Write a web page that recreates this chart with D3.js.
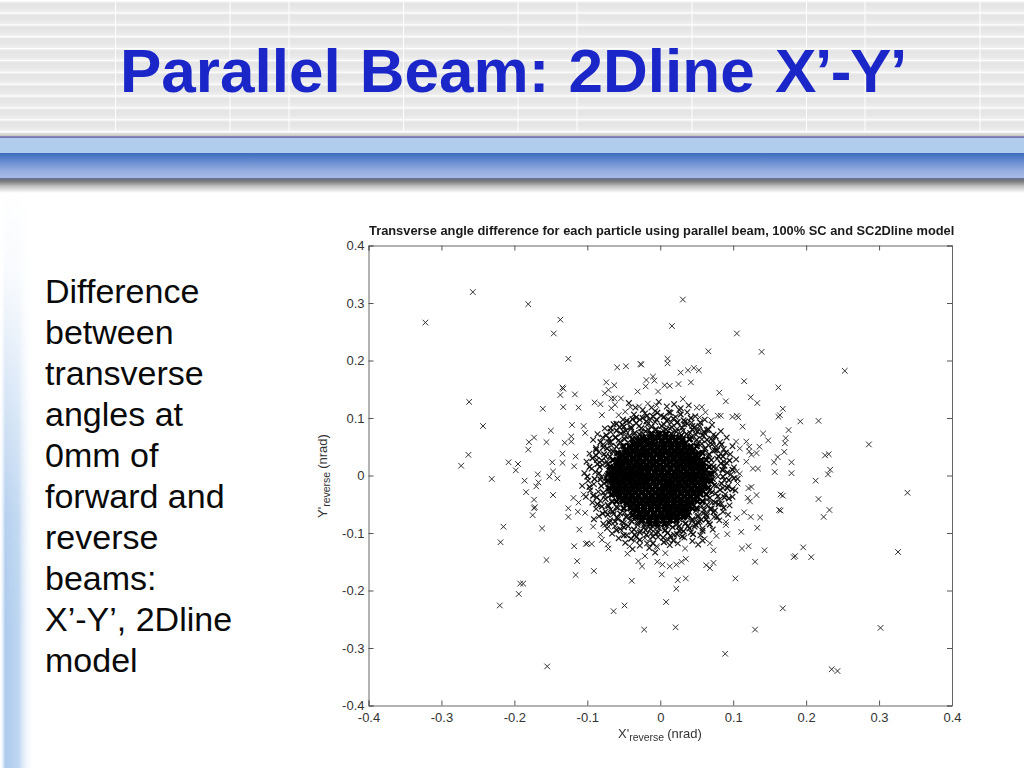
<!DOCTYPE html>
<html><head><meta charset="utf-8">
<script src="https://cdnjs.cloudflare.com/ajax/libs/d3/7.8.5/d3.min.js"></script>
<style>html,body{margin:0;padding:0;background:#fff;overflow:hidden}svg{display:block}text{font-family:"Liberation Sans",Arial,sans-serif}</style>
</head><body><svg id="c" width="1024" height="768"></svg>
<script>
// Values in milli-units of the axis as [x, y].
const sparsePoints=[[-322,266],[-257,319],[-181,298],[-137,271],[-146,247],[-126,203],[-262,128],[-243,86],[-263,36],[-273,17],[-231,-6],[-208,23],[-195,20],[-198,9],[-181,45],[-180,58],[-173,66],[-161,116],[-150,78],[-156,58],[-134,153],[-133,151],[-137,140],[-117,141],[-133,119],[-112,118],[-121,88],[-105,86],[-103,74],[-122,68],[-122,59],[-131,57],[-134,38],[-134,22],[-148,23],[-147,7],[-152,-2],[-141,-5],[-168,2],[-167,-12],[-186,-9],[-116,33],[-118,16],[-90,127],[-82,124],[-80,105],[-74,162],[-76,143],[-71,149],[-63,157],[-59,188],[-47,190],[-27,194],[-26,193],[-19,166],[-10,172],[-8,165],[-3,146],[-31,146],[-20,155],[-63,134],[-54,134],[-67,134],[-67,117],[-62,123],[-57,105],[-48,111],[-41,119],[-29,120],[-17,125],[-5,122],
[31,306],[16,260],[105,247],[66,216],[139,215],[10,203],[10,195],[253,182],[28,179],[38,183],[46,187],[53,183],[6,157],[13,156],[25,159],[42,162],[115,164],[162,153],[81,144],[31,133],[90,129],[124,136],[133,126],[168,116],[162,102],[164,105],[192,94],[217,95],[105,104],[107,101],[99,102],[79,104],[83,104],[113,85],[176,79],[141,73],[148,61],[172,65],[171,56],[286,54],[136,50],[170,41],[161,32],[156,23],[180,23],[226,35],[231,37],[157,6],[180,4],[233,10],[230,2],[213,-9],[118,59],[122,50],[122,42],[125,36],[132,39],[127,12],[134,12],[118,24],[104,59],[109,47],[105,7],[109,3],[50,118],[57,119],[54,101],[70,96],[62,110],
[339,-30],[326,-133],[302,-265],[243,-340],[235,-337],[89,-310],[130,-268],[21,-264],[168,-231],[8,-220],[22,-197],[2,-172],[103,-179],[35,-179],[24,-182],[130,-150],[183,-142],[185,-140],[207,-142],[196,-125],[143,-130],[112,-127],[121,-123],[73,-152],[63,-156],[68,-161],[7,-135],[-4,-125],[-4,-150],[3,-155],[13,-158],[22,-155],[29,-150],[35,-145],[34,-127],[111,-98],[133,-91],[92,-102],[77,-105],[73,-130],[68,-118],[61,-110],[224,-72],[232,-60],[217,-41],[163,-60],[165,-61],[165,-33],[168,-35],[137,-73],[124,-72],[115,-64],[105,-74],[132,-34],[121,-22],[123,-45],[120,-39],[125,-20],[106,-14],[90,-86],[90,-81],[50,-87],
[-215,-89],[-219,-116],[-156,-147],[-192,-188],[-188,-188],[-194,-206],[-220,-226],[-155,-332],[-22,-268],[-64,-236],[-49,-226],[-39,-183],[-91,-166],[-116,-173],[-114,-149],[-118,-123],[-102,-119],[-100,-118],[-94,-119],[-162,-92],[-111,-94],[-175,-69],[-173,-57],[-172,-55],[-173,-42],[-184,-29],[-170,-19],[-147,-34],[-126,-57],[-126,-72],[-113,-63],[-103,-65],[-119,-39],[-112,-47],[-105,-33],[-80,-112],[-72,-120],[-71,-127],[-45,-136],[-30,-149],[-25,-158],[-21,-140],[-5,-123],[-42,-123],[-35,-114],[-21,-109],[-14,-110],[-76,-87],[-71,-89],[-92,-89],[-82,-103],[-53,-96]];

// Hatched ring around the dense core (estimated, marks overlap too much to read singly).
const ringPoints=[[-92,62],[-88,48],[-97,38],[-101,24],[-94,12],[-104,4],[-99,-9],[-107,-18],[-96,-26],[-102,-37],[-93,-47],[-88,-58],[-84,-71],[-91,-76],[-78,-84],[-69,-78],[-73,-92],[-62,-88],[-66,-101],[-55,-93],[-57,-109],[-46,-104],[-39,-98],[-48,-117],[-33,-107],[-27,-96],[-18,-118],[-12,-100],[-3,-107],[6,-96],[11,-112],[19,-103],[28,-94],[33,-108],[42,-99],[47,-89],[55,-104],[58,-92],[66,-82],[72,-94],[74,-72],[81,-78],[86,-63],[93,-68],[84,-49],[95,-52],[99,-37],[89,-33],[103,-26],[93,-18],[106,-6],[97,2],[101,14],[91,22],[104,28],[96,37],[87,46],[99,51],[82,58],[91,66],[73,71],[83,77],[64,79],[71,88],[54,86],[61,97],[43,92],[48,103],[32,96],[37,110],[21,102],[26,114],[11,98],[14,109],[1,104],[-7,112],[-14,96],[-21,108],[-28,97],[-36,106],[-42,93],[-51,97],[-56,84],[-64,89],[-68,76],[-76,82],[-79,66],[-86,72],
[-78,54],[-84,41],[-75,33],[-87,27],[-79,18],[-89,6],[-81,-3],[-91,-15],[-77,-14],[-85,-28],[-76,-35],[-82,-44],[-72,-51],[-75,-63],[-64,-67],[-68,-59],[-58,-76],[-50,-83],[-41,-78],[-45,-71],[-31,-86],[-34,-74],[-22,-90],[-24,-78],[-11,-88],[-13,-79],[-1,-92],[3,-80],[9,-87],[15,-78],[22,-86],[26,-76],[34,-84],[37,-73],[44,-79],[51,-72],[54,-80],[59,-66],[64,-71],[68,-58],[75,-61],[71,-47],[81,-42],[76,-31],[86,-22],[77,-18],[88,-8],[79,-2],[86,9],[77,13],[87,24],[78,29],[83,38],[72,43],[77,51],[66,53],[70,64],[57,63],[62,72],[49,71],[53,80],[41,74],[44,86],[31,78],[33,89],[23,81],[24,93],[13,82],[15,92],[4,78],[5,89],[-6,81],[-7,93],[-16,79],[-18,88],[-26,76],[-29,86],[-36,72],[-40,81],[-47,68],[-50,76],[-57,61],[-62,66],[-67,52],[-71,58],[-69,42],[-73,24],[-70,8],[-74,-4],[-71,-27],[-66,-44],[-58,-56],[-49,-64],[-39,-68],[-27,-70],[-16,-72],[-5,-74],[6,-72],[18,-70],[29,-68],[40,-64],[49,-61],[57,-53],[64,-42],[67,-27],[70,-11],[69,4],[70,18],[66,34],[60,46],[51,56],[41,64],[29,70],[16,72],[3,70],[-9,70],[-21,68],[-33,64],[-44,58],[-53,51],[-60,39],[-65,26],
[-43,126],[-34,118],[-24,114],[-12,118],[-2,128],[9,120],[19,124],[28,117],[39,122],[-38,-128],[-28,-122],[-15,-126],[-7,-134],[13,-121],[24,-118],[44,-114],[52,-120],[58,-113]];

// Heavily overlapped marks just outside the solid area (estimated).
const denseRingPoints=[[-40,84],[-33,91],[-26,82],[-19,94],[-12,85],[-5,97],[2,86],[9,95],[16,84],[23,92],[30,83],[37,90],[44,80],[-47,78],[-54,73],[51,76],[58,70],[-61,66],[-68,58],[64,62],[71,54],[-73,47],[-77,37],[75,44],[80,33],[-80,26],[-83,15],[83,21],[85,10],[-84,4],[-82,-7],[86,-2],[84,-14],[-81,-18],[-78,-30],[82,-25],[79,-36],[-75,-41],[-71,-53],[75,-47],[70,-58],[-65,-63],[-59,-73],[63,-68],[56,-77],[-52,-81],[-44,-88],[48,-85],[40,-92],[-36,-94],[-28,-99],[32,-97],[23,-102],[-19,-103],[-10,-106],[14,-105],[4,-108],
[-35,74],[-28,71],[-20,77],[-13,72],[-6,79],[1,74],[8,80],[15,73],[22,76],[29,70],[36,72],[43,67],[-42,69],[-49,63],[50,62],[-55,58],[57,55],[-60,50],[62,47],[-65,42],[67,37],[-69,33],[-72,20],[70,27],[73,15],[-70,11],[-73,0],[75,6],[72,-6],[-74,-11],[-71,-23],[74,-17],[71,-29],[-68,-34],[-66,-46],[68,-39],[64,-51],[-60,-55],[-55,-66],[60,-60],[52,-70],[-47,-72],[-39,-80],[44,-76],[35,-83],[-31,-82],[-22,-86],[26,-88],[17,-90],[-13,-93],[-4,-90],[7,-95],[-3,-99],[12,-85],[-17,-80],[-8,-84],
[-68,82],[-60,90],[-52,88],[-74,70],[-82,58],[-88,45],[-93,30],[-97,15],[-100,-2],[-97,-20],[-92,-35],[-86,-50],[-79,-66],[-70,-82],[-60,-95],[-50,-104],[-40,-110],[-28,-112],[-10,-118],[5,-116],[18,-113],[30,-106],[45,-102],[58,-96],[68,-85],[78,-72],[87,-56],[94,-40],[99,-24],[101,-5],[99,10],[95,26],[90,40],[84,54],[76,68],[66,80],[55,92],[42,100],[28,106],[12,110],[-4,109],[-18,104],[-33,101],[-46,95],
[-88,35],[-86,20],[-90,-6],[-87,-38],[-80,-54],[-72,-68],[-62,-80],[-50,-90],[-35,-103],[-20,-95],[-6,-101],[10,-100],[26,-96],[38,-88],[52,-82],[63,-76],[73,-64],[80,-50],[88,-38],[92,-22],[94,-8],[92,5],[88,17],[86,33],[78,44],[72,60],[60,76],[47,84],[34,94],[18,99],[5,102],[-10,103],[-24,100],[-38,98],[-50,85],[-60,78],[-70,64],[-78,49]];

// Black core, rows of x at each y (estimated from the solid area).
const coreY=[72,66,60,54,48,42,36,30,24,18,12,6,0,-6,-12,-18,-24,-30,-36,-42,-48,-54,-60,-66,-72,-78,-84];
const coreX=[
[-12,-2,8],
[-24,-14,-3,7,17,26],
[-30,-21,-10,2,12,21,30],
[-36,-27,-16,-7,4,13,24,33],
[-41,-32,-24,-12,-3,6,16,25,34,41],
[-47,-38,-29,-20,-9,0,9,19,28,37,45],
[-52,-42,-33,-25,-14,-5,3,14,23,31,40,48],
[-55,-47,-37,-28,-19,-10,-1,8,18,27,36,44,51],
[-58,-50,-41,-32,-23,-14,-6,4,13,22,31,40,48,55],
[-60,-53,-44,-36,-27,-18,-9,0,9,18,27,36,44,52,58],
[-63,-55,-47,-39,-30,-22,-13,-4,5,14,23,32,41,49,57],
[-64,-56,-49,-41,-33,-25,-17,-8,1,10,19,28,37,45,53,60],
[-65,-58,-50,-43,-35,-27,-20,-11,-2,6,15,24,33,42,50,58],
[-66,-58,-51,-44,-37,-29,-21,-13,-5,4,13,22,31,40,48,56,62],
[-65,-57,-50,-42,-34,-26,-18,-9,0,8,17,26,35,44,52,59],
[-64,-56,-48,-40,-32,-23,-15,-6,3,12,21,30,38,47,55,60],
[-62,-54,-46,-37,-29,-20,-11,-2,7,16,25,34,43,51,57],
[-59,-51,-43,-34,-25,-16,-7,2,11,20,29,38,46,54],
[-56,-47,-39,-30,-21,-12,-3,6,15,24,33,41,50],
[-52,-43,-34,-25,-16,-7,2,11,20,29,38,46],
[-46,-37,-28,-19,-10,0,9,18,27,36,43],
[-40,-31,-22,-12,-3,6,15,24,33,39],
[-37,-32,-23,-13,-4,5,14,23,30,35],
[-29,-20,-9,1,10,19,28],
[-33,-24,-14,-5,5,14,23,32],
[-25,-15,-6,4,13,22],
[-14,-4,6]];
const fillY=[63,51,39,27,15,3,-9,-21,-33,-45,-57,-69];
const fillX=[
[-38,-28,-18,-7,2,11,21,31,40],
[-50,-42,-33,-23,-13,-4,5,15,24,33,42,50],
[-58,-49,-41,-31,-22,-13,-3,7,16,25,34,44,53,58],
[-65,-56,-47,-38,-29,-19,-10,0,10,19,29,38,47,56,63],
[-69,-60,-52,-43,-34,-24,-15,-5,4,14,24,33,42,51,60,67],
[-71,-62,-53,-45,-36,-27,-17,-7,2,11,21,31,40,49,58,67,70],
[-72,-63,-54,-46,-37,-28,-19,-9,0,10,20,29,38,47,56,65,69],
[-70,-61,-52,-44,-34,-25,-15,-6,5,14,23,33,42,51,60,66],
[-66,-57,-48,-39,-30,-20,-11,-1,8,18,28,37,46,55,63],
[-60,-51,-42,-33,-24,-14,-5,4,14,23,33,42,51,58],
[-50,-41,-32,-22,-13,-3,7,17,26,36,44,50],
[-38,-28,-18,-8,2,12,22,32,38]];

const xTicks=[-0.4,-0.3,-0.2,-0.1,0,0.1,0.2,0.3,0.4];
const yTicks=[-0.4,-0.3,-0.2,-0.1,0,0.1,0.2,0.3,0.4];
const tickLabels=["-0.4","-0.3","-0.2","-0.1","0","0.1","0.2","0.3","0.4"];
const bodyLines=["Difference","between","transverse","angles at","0mm of","forward and","reverse","beams:","X’-Y’, 2Dline","model"];
const stripeXs=[115.5,230,289,403.5,518,577,692,806.5,865,980];
const stripeRows=[0,1,2,3,4,5,6,7,8,9,10];

const svg=d3.select("#c"),defs=svg.append("defs");
function grad(id,stops,h){const g=defs.append("linearGradient").attr("id",id).attr("x1",0).attr("y1",0).attr("x2",h?1:0).attr("y2",h?0:1);
 stops.forEach(s=>g.append("stop").attr("offset",s[0]).attr("stop-color",s[1]).attr("stop-opacity",s[2]===undefined?1:s[2]));}
grad("stripe",[[0,"#f1f1f1"],[.2,"#e4e4e4"],[.6,"#e7e7e7"],[1,"#f0f0f0"]]);
grad("band",[[0,"#3c6cbd"],[.25,"#5c84cc"],[.7,"#95acdf"],[1,"#a6bbe6"]]);
grad("shadow",[[0,"#5f6f96"],[.2,"#777777"],[.55,"#c0c0c0"],[1,"#ffffff"]]);
grad("seam",[[0,"#e8e8e8"],[1,"#bdbbb2"]]);
grad("side",[[0,"#ffffff",.2],[.15,"#a9c8ec",.95],[.55,"#b2cfef",.85],[1,"#ffffff",0]],true);
grad("fade",[[0,"#fff",1],[.2,"#fff",.9],[.75,"#fff",.1],[1,"#fff",0]]);
defs.append("filter").attr("id","soft").append("feGaussianBlur").attr("stdDeviation",.3);

// background
svg.append("rect").attr("x",0).attr("y",190).attr("width",34).attr("height",578).attr("fill","url(#side)");
svg.append("rect").attr("x",0).attr("y",190).attr("width",36).attr("height",440).attr("fill","url(#fade)");
svg.append("g").selectAll("rect").data(stripeRows).join("rect").attr("x",0).attr("width",1024)
 .attr("y",d=>1.5+d*11.87).attr("height",10.9).attr("fill","url(#stripe)");
svg.append("g").selectAll("line").data(stripeXs).join("line").attr("x1",d=>d).attr("x2",d=>d).attr("y1",0).attr("y2",133).attr("stroke","#fff").attr("stroke-width",1);
svg.append("rect").attr("x",0).attr("y",132.5).attr("width",1024).attr("height",4.5).attr("fill","url(#seam)");
svg.append("rect").attr("x",0).attr("y",138).attr("width",1024).attr("height",15).attr("fill","#b0cdee");
svg.append("rect").attr("x",0).attr("y",153).attr("width",1024).attr("height",25).attr("fill","url(#band)");
svg.append("rect").attr("x",0).attr("y",178).attr("width",1024).attr("height",15).attr("fill","url(#shadow)");
svg.append("rect").attr("x",0).attr("y",136.5).attr("width",1024).attr("height",1.3).attr("fill","#5450a8");

// headline and body
svg.append("text").attr("x",120).attr("y",91.5).attr("font-size",62).attr("font-weight",700).attr("fill","#1a26c8").attr("word-spacing",2).text("Parallel Beam: 2Dline");
svg.append("text").attr("x",775).attr("y",91.5).attr("font-size",62).attr("font-weight",700).attr("fill","#1a26c8").attr("letter-spacing",-1.4).text("X’-Y’");
svg.append("g").selectAll("text").data(bodyLines).join("text").attr("x",45).attr("y",(d,i)=>303+i*41).attr("font-size",34).attr("fill","#0a0a0a").text(d=>d);

// chart
const L=368.5,R=952,T=245.5,B=705.5;
const x=d3.scaleLinear().domain([-0.4,0.4]).range([L,R]);
const y=d3.scaleLinear().domain([-0.4,0.4]).range([B,T]);
const px=v=>x(v/1000),py=v=>y(v/1000);
const cross="M-2.8,-2.8L2.8,2.8M-2.8,2.8L2.8,-2.8";
const plot=svg.append("g").attr("filter","url(#soft)");
function marks(data,color,w){plot.append("g").selectAll("path").data(data).join("path").attr("d",cross)
 .attr("transform",d=>`translate(${px(d[0])},${py(d[1])})`).attr("fill","none").attr("stroke",color).attr("stroke-width",w);}
marks(sparsePoints,"#262626",.95);
marks(ringPoints,"#1c1c1c",1.15);
marks(denseRingPoints,"#111",1.4);
marks(coreY.flatMap((v,i)=>coreX[i].map(u=>[u,v])),"#000",2.9);
marks(fillY.flatMap((v,i)=>fillX[i].map(u=>[u,v])),"#000",2.3);

const fmt=d=>tickLabels[xTicks.indexOf(d)];
function style(g){g.selectAll("path.domain").attr("stroke","#666").attr("stroke-width",1);g.selectAll(".tick line").attr("stroke","#555");
 g.selectAll("text").attr("font-size",13).attr("fill","#333").attr("font-family",'"Liberation Sans",Arial,sans-serif');}
svg.append("g").attr("transform",`translate(0,${B})`).call(d3.axisBottom(x).tickValues(xTicks).tickFormat(fmt).tickSize(-5).tickPadding(7)).call(style);
svg.append("g").attr("transform",`translate(${L},0)`).call(d3.axisLeft(y).tickValues(yTicks).tickFormat(fmt).tickSize(-5).tickPadding(4)).call(style);
svg.append("g").attr("transform",`translate(0,${T})`).call(d3.axisTop(x).tickValues(xTicks).tickFormat("").tickSize(-5)).call(style);
svg.append("g").attr("transform",`translate(${R},0)`).call(d3.axisRight(y).tickValues(yTicks).tickFormat("").tickSize(-5)).call(style);

svg.append("text").attr("x",369).attr("y",234.5).attr("font-size",12.85).attr("font-weight",700).attr("fill","#1a1a1a").text("Transverse angle difference for each particle using parallel beam, 100% SC and SC2Dline model");
const xl=svg.append("text").attr("x",618).attr("y",738).attr("font-size",13).attr("fill","#333");
xl.append("tspan").text("X'");xl.append("tspan").attr("font-size",10.5).attr("dy",3).text("reverse");xl.append("tspan").attr("dy",-3).attr("dx",3).text("(nrad)");
const yl=svg.append("text").attr("transform","translate(327,518) rotate(-90)").attr("font-size",13).attr("fill","#333");
yl.append("tspan").text("Y'");yl.append("tspan").attr("font-size",10.5).attr("dy",3).text("reverse");yl.append("tspan").attr("dy",-3).attr("dx",3).text("(nrad)");
</script></body></html>
